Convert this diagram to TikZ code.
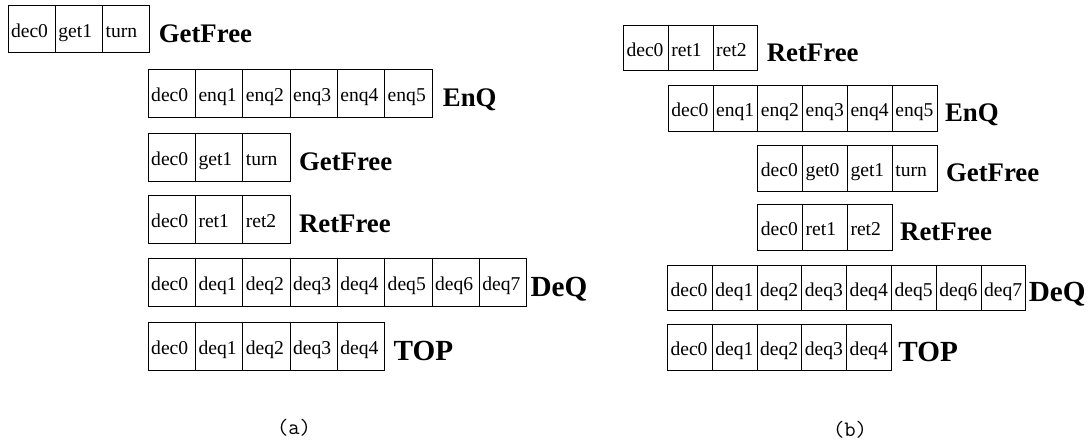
\documentclass[tikz,border=0pt]{standalone}
\usepackage{fontspec}
\setmainfont{Liberation Serif}
\usetikzlibrary{positioning}

\begin{document}
\begin{tikzpicture}[x=0.5pt,y=0.5pt,yscale=-1,
  cell/.style={draw, line width=0.5pt, anchor=north west, inner xsep=1.5pt, align=left, text height=8.5pt, text depth=0pt, font=\fontsize{9.8}{11}\selectfont},
  cella/.style={cell, minimum width=23.65pt, text width=20.65pt, minimum height=23.75pt},
  cellb/.style={cell, minimum width=22.4pt, text width=19.4pt, minimum height=22.75pt},
  opname/.style={inner sep=0pt, text height=13pt, text depth=0pt, font=\fontsize{13.4}{16}\selectfont\bfseries},
  opbig/.style={opname, text height=14pt, font=\fontsize{14.6}{17}\selectfont\bfseries},
  caption/.style={font=\ttfamily\fontsize{11}{13}\selectfont}]
\path[use as bounding box] (0,0) rectangle (1090,444);

%%% (a)
% GetFree
\foreach \cname [count=\i] in {dec0,get1,turn}
  \node[cella] (a1c\i) at ({7.5+(\i-1)*47.3},5) {\cname};
\node[opname, right=4pt of a1c3] (a1op) {GetFree};
% EnQ
\foreach \cname [count=\i] in {dec0,enq1,enq2,enq3,enq4,enq5}
  \node[cella] (a2c\i) at ({147.7+(\i-1)*47.3},69) {\cname};
\node[opname, right=5pt of a2c6] (a2op) {EnQ};
% GetFree
\foreach \cname [count=\i] in {dec0,get1,turn}
  \node[cella] (a3c\i) at ({147.7+(\i-1)*47.3},133) {\cname};
\node[opname, right=4pt of a3c3] (a3op) {GetFree};
% RetFree
\foreach \cname [count=\i] in {dec0,ret1,ret2}
  \node[cella] (a4c\i) at ({147.7+(\i-1)*47.3},195) {\cname};
\node[opname, right=4pt of a4c3] (a4op) {RetFree};
% DeQ
\foreach \cname [count=\i] in {dec0,deq1,deq2,deq3,deq4,deq5,deq6,deq7}
  \node[cella] (a5c\i) at ({147.7+(\i-1)*47.3},258) {\cname};
\node[opbig, right=1.5pt of a5c8] (a5op) {DeQ};
% TOP
\foreach \cname [count=\i] in {dec0,deq1,deq2,deq3,deq4}
  \node[cella] (a6c\i) at ({147.7+(\i-1)*47.3},322) {\cname};
\node[opbig, right=4pt of a6c5] (a6op) {TOP};

%%% (b)
% RetFree
\foreach \cname [count=\i] in {dec0,ret1,ret2}
  \node[cellb] (b1c\i) at ({623+(\i-1)*44.8},25) {\cname};
\node[opname, right=4pt of b1c3] (b1op) {RetFree};
% EnQ
\foreach \cname [count=\i] in {dec0,enq1,enq2,enq3,enq4,enq5}
  \node[cellb] (b2c\i) at ({667.8+(\i-1)*44.8},85) {\cname};
\node[opname, right=3.5pt of b2c6] (b2op) {EnQ};
% GetFree
\foreach \cname [count=\i] in {dec0,get0,get1,turn}
  \node[cellb] (b3c\i) at ({757.4+(\i-1)*44.8},145) {\cname};
\node[opname, right=4pt of b3c4] (b3op) {GetFree};
% RetFree
\foreach \cname [count=\i] in {dec0,ret1,ret2}
  \node[cellb] (b4c\i) at ({757.4+(\i-1)*44.8},204) {\cname};
\node[opname, right=3.5pt of b4c3] (b4op) {RetFree};
% DeQ
\foreach \cname [count=\i] in {dec0,deq1,deq2,deq3,deq4,deq5,deq6,deq7}
  \node[cellb] (b5c\i) at ({667+(\i-1)*44.8},264.5) {\cname};
\node[opbig, right=1pt of b5c8] (b5op) {DeQ};
% TOP
\foreach \cname [count=\i] in {dec0,deq1,deq2,deq3,deq4}
  \node[cellb] (b6c\i) at ({667+(\i-1)*44.8},324) {\cname};
\node[opbig, right=3pt of b6c5] (b6op) {TOP};

% captions
\node[caption] (capa) at (294,428) {(a)};
\node[caption] (capb) at (850,430) {(b)};

\end{tikzpicture}
\end{document}
